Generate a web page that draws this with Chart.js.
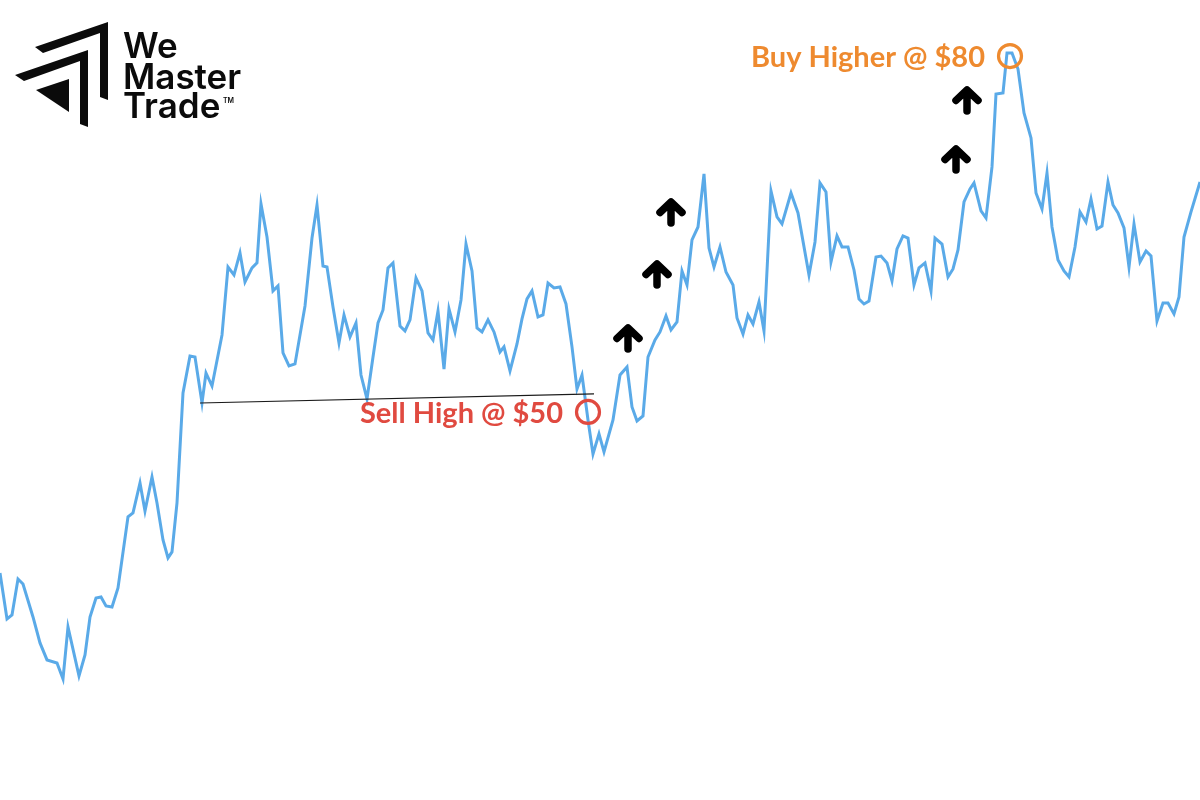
<!DOCTYPE html>
<html>
<head>
<meta charset="utf-8">
<script src="https://cdn.jsdelivr.net/npm/chart.js@4.4.1/dist/chart.umd.min.js"></script>
<style>
  html, body { margin: 0; padding: 0; background: #ffffff; }
  #wrap { width: 1200px; height: 800px; position: relative; }
  canvas { display: block; }
</style>
</head>
<body>
<div id="wrap"><canvas id="c" width="1200" height="800"></canvas></div>
<script>
// ---- Data ----
const days = [
  0,7,12,18,23,33,40,47,57,63,68,79,85,90,96,101,106,112,118,128,133,140,145,152,157,163,168,172,177,
  183,190,195,202,206,212,222,228,234,240,245,252,257,261,267,273,278,283,289,295,305,312,317,323,327,
  333,339,344,350,356,361,367,373,378,383,388,393,400,405,410,416,422,428,433,438,444,449,455,461,466,
  472,477,482,488,494,500,504,510,517,522,527,532,538,543,548,554,560,566,572,577,582,588,593,599,604,
  613,620,627,632,637,643,648,655,660,666,671,677,682,687,692,698,704,709,714,720,726,733,737,743,748,
  753,759,764,771,777,782,791,798,809,815,820,826,831,837,842,848,854,859,864,869,876,881,887,892,897,
  903,908,914,919,925,931,935,942,948,953,958,964,970,974,981,986,992,996,1003,1007,1012,1018,1024,1031,
  1036,1042,1047,1052,1058,1064,1069,1075,1080,1086,1091,1097,1102,1108,1113,1118,1124,1129,1134,1140,
  1146,1151,1157,1163,1168,1174,1179,1184,1191,1200
];
const prices = [
  34.29,30.24,30.59,33.76,33.32,30.41,28.12,26.62,26.35,24.94,29.53,25.21,27.06,30.41,32.09,32.18,31.38,31.29,32.97,39.24,39.59,42.24,39.76,42.76,40.47,37.21,35.62,36.15,40.47,
  50.18,53.44,53.35,49.29,51.94,50.79,55.29,61.29,60.59,62.53,59.97,61.21,61.65,66.85,63.94,59.18,59.62,53.71,52.56,52.74,57.85,63.85,66.76,61.38,61.29,
  57.76,54.59,57.06,55.12,56.35,51.76,49.65,53.35,56.35,57.50,61.21,61.65,56.09,55.65,56.62,60.32,59.18,55.47,54.85,57.41,52.29,57.59,55.56,58.38,63.32,
  60.94,55.91,55.56,56.62,55.56,53.79,54.24,52.12,54.50,56.71,58.47,59.18,56.88,57.06,59.88,59.44,59.53,58.03,54.24,50.53,51.76,47.79,44.79,46.56,44.97,
  47.79,51.76,52.47,48.94,47.71,48.15,53.35,54.85,55.56,56.97,55.74,56.44,60.94,59.71,63.68,64.82,69.50,62.97,61.29,63.06,60.85,59.71,56.79,55.38,57.06,
  56.26,58.21,55.65,68.00,65.71,65.09,67.82,66.06,60.59,63.50,68.71,67.91,61.74,64.03,63.06,63.06,61.03,58.47,58.03,58.29,62.18,62.26,61.65,60.06,62.88,
  64.03,63.85,59.71,61.21,61.65,59.18,63.85,63.32,60.41,61.12,62.79,67.03,68.18,68.71,66.24,65.62,70.12,76.56,76.65,80.18,80.18,78.76,74.88,72.68,
  67.82,66.41,69.59,64.82,61.91,60.94,60.41,63.06,66.15,65.26,67.29,64.65,64.91,68.79,66.76,66.06,64.74,61.29,65.09,61.74,
  62.71,62.26,56.53,58.12,58.12,57.15,58.65,63.94,66.15,68.79
];

// Annotations (day, price)
const supportLine = [[200, 49.29], [594, 50.09]];
const sellPoint = { day: 588, price: 48.5, label: "Sell High @ $50" };
const buyPoint  = { day: 1010, price: 79.9, label: "Buy Higher @ $80" };
const upArrows = [[628, 56.27], [657, 61.91], [671, 67.38], [956, 72.06], [967, 77.27]];

const yMin = 14.26, yMax = 84.85;

const bgPlugin = {
  id: 'bg',
  beforeDraw(chart) {
    const ctx = chart.ctx;
    ctx.save();
    ctx.fillStyle = '#ffffff';
    ctx.fillRect(0, 0, chart.width, chart.height);
    ctx.restore();
  }
};

function drawArrow(ctx, cx, top) {
  ctx.save();
  ctx.strokeStyle = '#000000';
  ctx.lineWidth = 7.5;
  ctx.lineCap = 'round';
  ctx.lineJoin = 'round';
  ctx.beginPath();
  ctx.moveTo(cx - 11, top + 14.5);
  ctx.lineTo(cx, top + 4);
  ctx.lineTo(cx + 11, top + 14.5);
  ctx.moveTo(cx, top + 5);
  ctx.lineTo(cx, top + 25);
  ctx.stroke();
  ctx.restore();
}

function drawLogo(ctx) {
  ctx.save();
  ctx.fillStyle = '#0b0b0b';
  // outer band
  ctx.beginPath();
  ctx.moveTo(35, 47); ctx.lineTo(108, 22); ctx.lineTo(108, 100);
  ctx.lineTo(100, 97); ctx.lineTo(100, 33); ctx.lineTo(43, 53);
  ctx.closePath(); ctx.fill();
  // middle band
  ctx.beginPath();
  ctx.moveTo(15, 75); ctx.lineTo(88, 50); ctx.lineTo(88, 127);
  ctx.lineTo(80, 124); ctx.lineTo(80, 61); ctx.lineTo(24, 81);
  ctx.closePath(); ctx.fill();
  // inner triangle
  ctx.beginPath();
  ctx.moveTo(36, 90); ctx.lineTo(69, 79); ctx.lineTo(69, 112);
  ctx.closePath(); ctx.fill();
  // text
  ctx.font = '600 35px Inter, "Noto Sans", sans-serif';
  ctx.textBaseline = 'alphabetic';
  ctx.textAlign = 'left';
  ctx.fillText('We', 123, 58);
  ctx.fillText('Master', 123, 89);
  ctx.fillText('Trade', 123, 118);
  ctx.font = '600 7px Inter, sans-serif';
  ctx.fillText('TM', 223, 103);
  ctx.restore();
}

const annoPlugin = {
  id: 'anno',
  afterDatasetsDraw(chart) {
    const ctx = chart.ctx;
    const xs = chart.scales.x, ys = chart.scales.y;
    const px = d => xs.getPixelForValue(d);
    const py = p => ys.getPixelForValue(p);

    // support line
    ctx.save();
    ctx.strokeStyle = '#1a1a1a';
    ctx.lineWidth = 1.2;
    ctx.beginPath();
    ctx.moveTo(px(supportLine[0][0]), py(supportLine[0][1]));
    ctx.lineTo(px(supportLine[1][0]), py(supportLine[1][1]));
    ctx.stroke();
    ctx.restore();

    // circles + labels
    const marks = [[sellPoint, '#e04a40'], [buyPoint, '#ee8a2f']];
    marks.forEach(([m, col]) => {
      const x = px(m.day), y = py(m.price);
      ctx.save();
      ctx.strokeStyle = col;
      ctx.lineWidth = 3.2;
      ctx.beginPath();
      ctx.arc(x, y, 11.5, 0, Math.PI * 2);
      ctx.stroke();
      ctx.fillStyle = col;
      ctx.font = 'bold 29px Lato, "Open Sans", sans-serif';
      ctx.textAlign = 'right';
      ctx.textBaseline = 'middle';
      ctx.fillText(m.label, x - 25, y + 2);
      ctx.restore();
    });

    upArrows.forEach(a => drawArrow(ctx, px(a[0]), py(a[1])));

    drawLogo(ctx);
  }
};

new Chart(document.getElementById('c'), {
  type: 'line',
  data: {
    datasets: [{
      data: days.map((d, i) => ({ x: d, y: prices[i] })),
      borderColor: '#5aaae8',
      borderWidth: 3,
      pointRadius: 0,
      tension: 0,
      fill: false
    }]
  },
  options: {
    responsive: false,
    devicePixelRatio: 1,
    animation: false,
    layout: { padding: 0 },
    plugins: { legend: { display: false }, tooltip: { enabled: false } },
    scales: {
      x: { type: 'linear', min: 0, max: 1200, display: false },
      y: { min: yMin, max: yMax, display: false }
    }
  },
  plugins: [bgPlugin, annoPlugin]
});
</script>
</body>
</html>
